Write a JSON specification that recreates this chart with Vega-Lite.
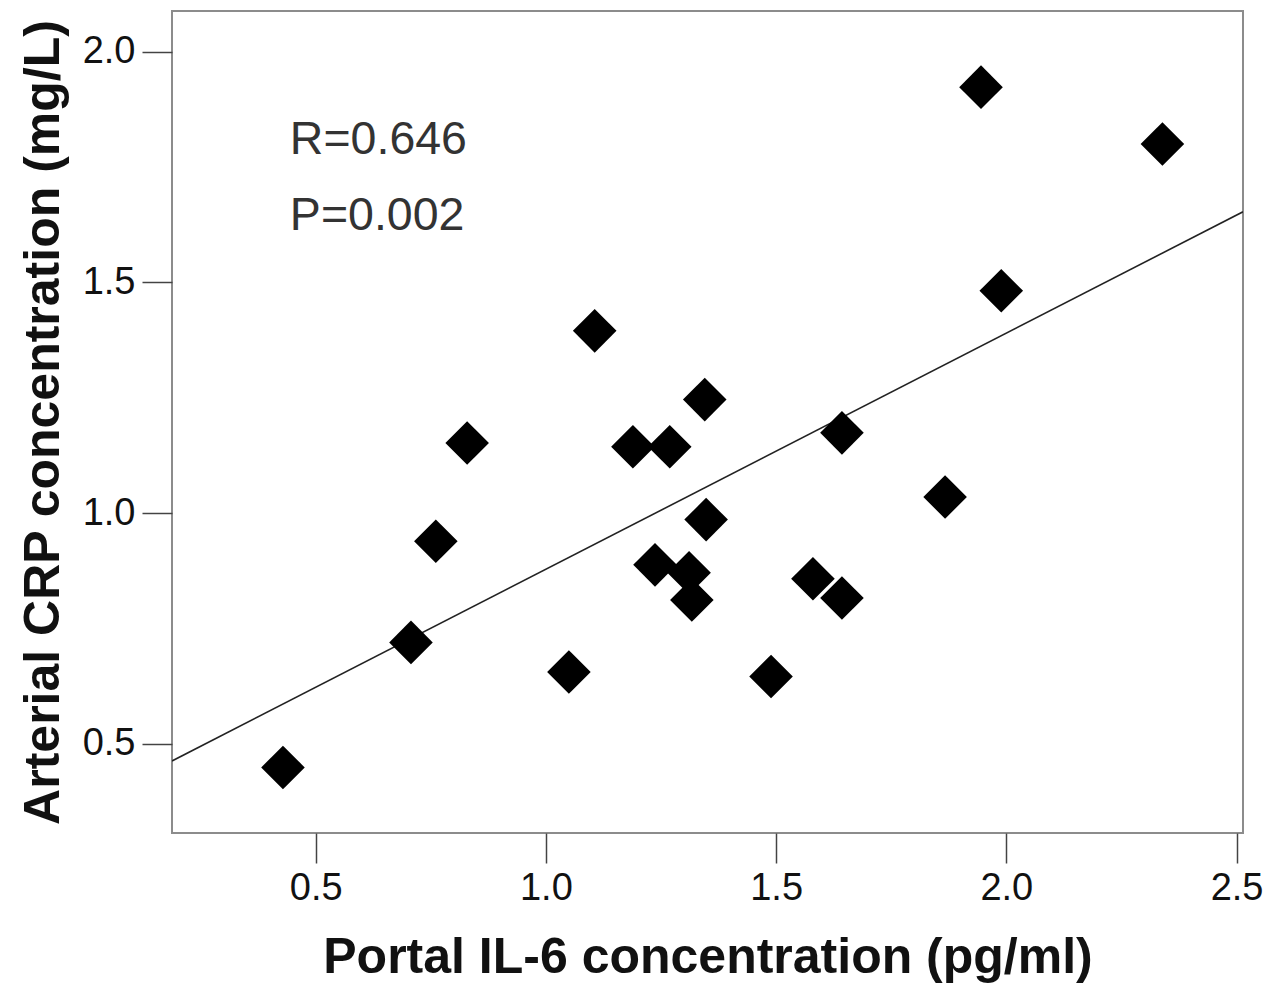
{
  "$schema": "https://vega.github.io/schema/vega-lite/v6.json",
  "width": 1071,
  "height": 822,
  "autosize": "none",
  "padding": {"left": 172, "top": 11, "right": 22, "bottom": 151},
  "background": "white",
  "config": {
    "view": {"stroke": "#8c8c8c", "strokeWidth": 2},
    "font": "Liberation Sans"
  },
  "datasets": {
    "points": [
      {"x": 0.429, "y": 0.449},
      {"x": 0.707, "y": 0.720},
      {"x": 0.761, "y": 0.939},
      {"x": 0.829, "y": 1.152},
      {"x": 1.050, "y": 0.656},
      {"x": 1.106, "y": 1.395},
      {"x": 1.189, "y": 1.144},
      {"x": 1.237, "y": 0.888},
      {"x": 1.269, "y": 1.144},
      {"x": 1.311, "y": 0.871},
      {"x": 1.317, "y": 0.812},
      {"x": 1.345, "y": 1.246},
      {"x": 1.348, "y": 0.986},
      {"x": 1.489, "y": 0.646},
      {"x": 1.580, "y": 0.858},
      {"x": 1.643, "y": 1.174},
      {"x": 1.643, "y": 0.816},
      {"x": 1.867, "y": 1.035},
      {"x": 1.945, "y": 1.923},
      {"x": 1.989, "y": 1.482},
      {"x": 2.339, "y": 1.800}
    ],
    "fit": [
      {"x": 0.188, "y": 0.463},
      {"x": 2.514, "y": 1.653}
    ],
    "stats": [
      {"x": 0.444, "y": 1.778, "label": "R=0.646"},
      {"x": 0.444, "y": 1.614, "label": "P=0.002"}
    ]
  },
  "encoding": {
    "x": {
      "field": "x",
      "type": "quantitative",
      "scale": {"domain": [0.188, 2.514], "nice": false, "zero": false},
      "axis": {
        "title": "Portal IL-6 concentration (pg/ml)",
        "values": [0.5, 1.0, 1.5, 2.0, 2.5],
        "format": ".1f",
        "domain": false,
        "grid": false,
        "tickSize": 30,
        "tickColor": "#444",
        "tickWidth": 1.5,
        "labelFontSize": 38,
        "labelColor": "#111",
        "labelPadding": 6,
        "labelFlush": false,
        "labelOverlap": false,
        "titleFontSize": 50,
        "titleFontWeight": "bold",
        "titleColor": "#111",
        "titleX": 535.5,
        "titleY": 139,
        "titleBaseline": "alphabetic",
        "titleAlign": "center"
      }
    },
    "y": {
      "field": "y",
      "type": "quantitative",
      "scale": {"domain": [0.307, 2.088], "nice": false, "zero": false},
      "axis": {
        "title": "Arterial CRP concentration (mg/L)",
        "values": [0.5, 1.0, 1.5, 2.0],
        "format": ".1f",
        "domain": false,
        "grid": false,
        "tickSize": 30,
        "tickColor": "#444",
        "tickWidth": 1.5,
        "labelFontSize": 38,
        "labelColor": "#111",
        "labelPadding": 7,
        "labelFlush": false,
        "labelOverlap": false,
        "titleFontSize": 50,
        "titleFontWeight": "bold",
        "titleColor": "#111",
        "titleAngle": 270,
        "titleX": -114,
        "titleY": 411,
        "titleBaseline": "alphabetic",
        "titleAlign": "center"
      }
    }
  },
  "layer": [
    {
      "data": {"name": "fit"},
      "mark": {"type": "line", "color": "#222", "strokeWidth": 1.6, "clip": true}
    },
    {
      "data": {"name": "points"},
      "mark": {"type": "point", "shape": "diamond", "filled": true, "color": "black", "opacity": 1, "size": 1900}
    },
    {
      "data": {"name": "stats"},
      "mark": {"type": "text", "align": "left", "baseline": "alphabetic", "fontSize": 46.5, "color": "#333"},
      "encoding": {"text": {"field": "label"}}
    }
  ]
}
